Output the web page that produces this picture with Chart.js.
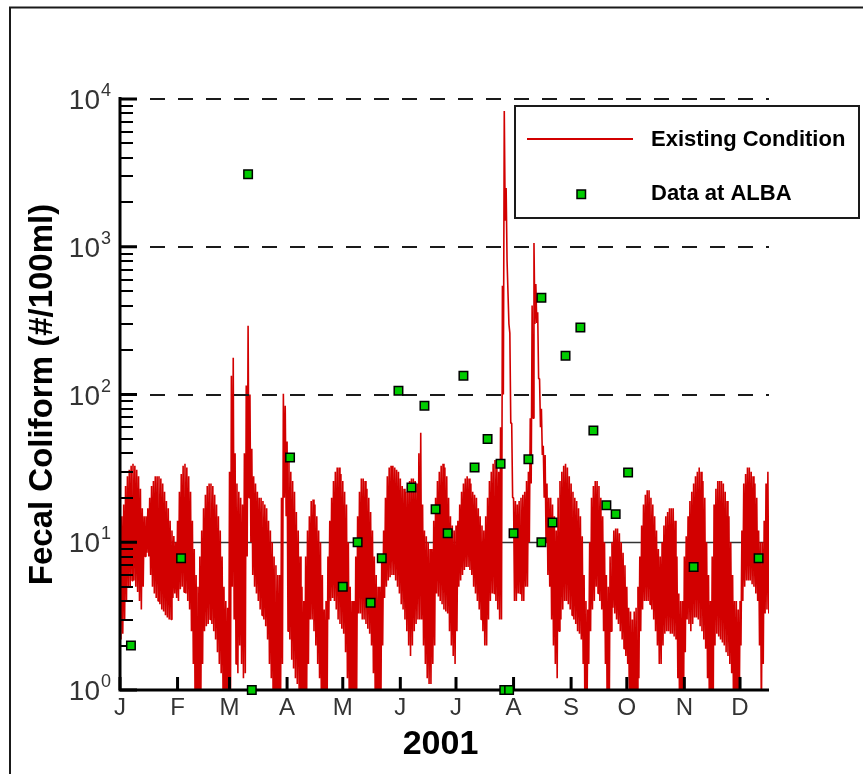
<!DOCTYPE html>
<html>
<head>
<meta charset="utf-8">
<title>Fecal Coliform at ALBA, 2001</title>
<script src="https://cdn.jsdelivr.net/npm/chart.js@4.4.1/dist/chart.umd.min.js"></script>
<style>
  html, body { margin: 0; padding: 0; background: #fff; }
  canvas { display: block; }
</style>
</head>
<body>
<canvas id="coliformChart" width="863" height="774"></canvas>
<script>
// Model output ("Existing Condition"): daily high and daily low, day 0 = Jan 1
const dailyHigh = [
  12, 15, 18, 24, 28, 31, 33, 34, 33, 31, 28, 23, 17, 15, 15, 17, 20, 24, 26, 28,
  28, 28, 27, 25, 22, 19, 17, 14, 12, 11, 10, 14, 22, 29, 33, 34, 32, 28, 22, 14,
  9, 6, 5, 8, 12, 17, 21, 24, 25, 25, 24, 21, 18, 15, 12, 8, 5, 4, 3.6, 30,
  134, 177, 40, 25, 22, 20, 18, 40, 115, 292, 100, 43, 28, 25, 22, 20, 20, 19, 18, 17,
  14, 12, 10, 8, 7, 6, 6, 20, 101, 84, 48, 38, 30, 26, 22, 16, 12, 8, 5, 4,
  8, 12, 15, 19, 19.5, 18, 15, 12, 10, 6, 3.5, 4, 8, 14, 20, 26, 30, 32, 32, 29,
  26, 22, 18, 10, 5, 4, 4, 8, 15, 22, 27, 27, 26, 23, 20, 16, 12, 8, 6, 5,
  5, 8, 12, 20, 28, 32, 33, 33, 32, 31, 30, 27, 24, 23, 22, 24, 26, 27, 27, 26,
  25, 40, 55, 18, 12, 11, 10, 9, 9, 14, 20, 26, 30, 33, 34, 32, 28, 20, 15, 13,
  12, 13, 14, 18, 22, 25, 27, 28, 27, 25, 22, 21, 20, 17, 15, 13, 12, 15, 20, 26,
  30, 34, 36, 34, 30, 60, 545, 8300, 2500, 800, 260, 64, 20, 19, 18, 19, 20, 21, 22, 26,
  30, 69, 400, 1060, 560, 360, 128, 80, 45, 39, 25, 20, 20, 18, 15, 12, 20, 26, 30, 33,
  34, 32, 28, 25, 22, 20, 19, 17, 15, 11, 6, 4, 3.5, 10, 20, 24, 26, 26, 24, 20,
  15, 10, 6, 5, 8, 10, 12, 12.4, 12.4, 11.5, 10, 8.5, 7, 5, 3.6, 3.4, 3, 3.4, 3.6, 5,
  8, 13, 18, 21, 22.5, 22.5, 20, 18, 15, 12, 9, 8, 10, 13, 15, 16, 17, 17, 17, 14,
  8, 4.5, 4, 4, 8, 11, 15, 19, 22, 25, 28, 30, 32, 30, 26, 20, 10, 6, 4, 8,
  18, 23, 26, 26, 26, 25, 22, 19, 15, 10, 6, 4, 4, 3.5, 4, 12, 25, 29, 32, 32,
  30, 28, 25, 20, 12, 10, 10, 14, 25, 30
];
const dailyLow = [
  2.2, 2.4, 3, 4, 5, 5, 5.5, 5.5, 5, 4.6, 4, 3.5, 5, 8, 8.5, 8, 6, 5, 4.5, 4.2,
  4, 3.8, 3.5, 3.4, 3.2, 3.1, 3, 3, 4.2, 4.5, 4.2, 4, 4.8, 5, 4.6, 4.5, 4, 3.5, 2.5, 1.5,
  0.6, 0.5, 0.5, 0.6, 1.5, 2.5, 2.7, 2.8, 3, 2.8, 2.5, 2.2, 1.8, 1.5, 1.3, 1, 0.7, 0.5, 0.6, 0.7,
  5, 3, 1.5, 1.3, 2, 1.5, 1.2, 1.3, 8, 20, 10, 6, 5, 4.5, 4, 3.5, 3.2, 3, 2.7, 2.2,
  1.5, 1.2, 0.8, 0.5, 0.5, 0.6, 0.8, 1.5, 20, 15, 2.5, 2.2, 1.6, 1.4, 1.2, 1.1, 1, 0.6, 0.5, 0.5,
  0.7, 1.5, 3, 3, 2.5, 2, 1.5, 1.2, 0.7, 0.5, 0.6, 0.5, 3, 4, 4.2, 4, 3.5, 3, 2.8, 2.6,
  2.4, 1.8, 1.2, 0.8, 0.5, 0.5, 0.5, 1, 3.3, 3.3, 3, 3, 2.8, 2.6, 2.4, 2, 1.3, 0.8, 0.5, 0.5,
  0.6, 2, 4.2, 5, 5.5, 5.8, 6, 6, 5.5, 5, 4.5, 3.8, 3.5, 3, 2.5, 2, 1.7, 2, 2.5, 2.8,
  3, 3, 3, 2, 1.5, 1.2, 1.1, 1.1, 1.5, 2, 4.5, 4.3, 4, 3.8, 3.5, 3.4, 3.3, 2.5, 2, 1.7,
  1.5, 2.5, 5, 5.5, 6, 6.5, 6.8, 6.8, 6.5, 6, 5, 4.5, 4, 3.5, 3, 2.5, 2, 2, 3, 4,
  4.5, 4.5, 4, 3.5, 3, 3, 100, 1500, 800, 300, 64, 20, 4, 4, 4.5, 4.5, 4, 4, 5, 5,
  10, 25, 69, 300, 305, 128, 60, 39, 20, 10, 6, 5, 3, 2, 1.5, 1.2, 2.5, 3, 3.5, 4,
  4, 3.8, 3.5, 3.2, 3, 2.8, 2.5, 2.4, 2.2, 1.5, 0.5, 0.5, 1.5, 2.5, 3.5, 4, 5, 4.5, 4, 3.5,
  2.5, 1.5, 0.5, 0.5, 2.5, 3.6, 3.3, 3, 2.8, 2.5, 2.2, 1.9, 1.7, 1.5, 0.5, 0.4, 0.4, 0.4, 0.5, 1.2,
  2.5, 3.5, 4, 4, 4, 3.8, 3.5, 3, 2.5, 2, 1.5, 1.5, 2, 2.4, 2.5, 2.5, 2.4, 2.4, 2.3, 2.2,
  1.2, 0.5, 0.5, 0.5, 1.8, 3, 2.8, 2.5, 2.8, 3.1, 3.1, 3, 2.7, 2.5, 2.2, 1.9, 1.2, 0.7, 0.5, 0.5,
  2, 2.4, 2.3, 2.2, 2.1, 2, 1.8, 1.7, 1.5, 1.3, 0.7, 0.5, 0.5, 0.5, 2, 4, 5, 5.5, 5.5, 5.5,
  5.2, 5, 4.5, 4, 2, 0.6, 1.5, 3.3, 3.5, 3.3
];

// Samples at ALBA (day of year, #/100ml)
const albaDays = [5.9, 32.9, 69, 71, 91.6, 120, 128, 135, 141, 150, 157, 164, 170, 176.5,
  185, 191, 198, 205, 207, 209.6, 212, 220, 227, 227, 233, 240, 248, 255, 262, 267,
  273.7, 309, 344];
const albaValues = [2, 7.8, 3100, 1, 37.5, 5, 10, 3.9, 7.8, 106, 23.5, 84, 16.7, 11.5,
  134, 32, 50, 34, 1, 1, 11.5, 36.4, 10, 452, 13.6, 183, 284, 57, 17.8, 15.5,
  29.7, 6.8, 7.8];

const monthStarts = [0, 31, 59, 90, 120, 151, 181, 212, 243, 273, 304, 334];
const monthLabels = ["J", "F", "M", "A", "M", "J", "J", "A", "S", "O", "N", "D"];
const decadeExponents = [0, 1, 2, 3, 4];
const xMaxDay = 349.6;

const RED = "#d20000";
const GREEN = "#00cc00";
const INK = "#1a1a1a";
const FONT = "'Liberation Sans', Arial, Helvetica, sans-serif";

/* =========================
   DECORATION PLUGIN
========================= */

const coliformDecor = {
  id: "coliformDecor",

  beforeDraw(chart) {
    const ctx = chart.ctx;
    ctx.save();
    ctx.fillStyle = "#fff";
    ctx.fillRect(0, 0, chart.width, chart.height);
    // outer frame (left and top edges only show)
    ctx.strokeStyle = INK;
    ctx.lineWidth = 2;
    ctx.beginPath();
    ctx.moveTo(10, chart.height);
    ctx.lineTo(10, 7.5);
    ctx.lineTo(chart.width, 7.5);
    ctx.stroke();
    ctx.restore();
  },

  beforeDatasetsDraw(chart) {
    // solid line at 10^1 sits under the model line
    const { ctx, chartArea, scales } = chart;
    const y = Math.round(scales.y.getPixelForValue(10)) + 0.5;
    ctx.save();
    ctx.strokeStyle = "#333";
    ctx.lineWidth = 1.5;
    ctx.beginPath();
    ctx.moveTo(chartArea.left + 16, y);
    ctx.lineTo(chartArea.right, y);
    ctx.stroke();
    ctx.restore();
  },

  afterDatasetDraw(chart, args) {
    if (args.index !== 0) return;
    const { ctx, chartArea, scales } = chart;
    const xs = scales.x;
    const ys = scales.y;
    ctx.save();

    // dashed decade lines
    ctx.strokeStyle = INK;
    ctx.lineWidth = 2;
    ctx.setLineDash([15, 13]);
    [100, 1000, 10000].forEach((v) => {
      const y = Math.round(ys.getPixelForValue(v));
      ctx.beginPath();
      ctx.moveTo(chartArea.left + 30, y);
      ctx.lineTo(chartArea.right, y);
      ctx.stroke();
    });
    ctx.setLineDash([]);

    // axis lines
    ctx.strokeStyle = "#000";
    ctx.lineWidth = 3;
    ctx.beginPath();
    ctx.moveTo(chartArea.left, chartArea.top - 2);
    ctx.lineTo(chartArea.left, chartArea.bottom);
    ctx.lineTo(chartArea.right, chartArea.bottom);
    ctx.stroke();

    // y ticks, major and minor, pointing inward
    decadeExponents.forEach((k) => {
      const y = ys.getPixelForValue(Math.pow(10, k));
      ctx.lineWidth = 3;
      ctx.beginPath();
      ctx.moveTo(chartArea.left, y);
      ctx.lineTo(chartArea.left + 17, y);
      ctx.stroke();
      if (k < 4) {
        ctx.lineWidth = 2;
        for (let m = 2; m <= 9; m++) {
          const ym = Math.round(ys.getPixelForValue(m * Math.pow(10, k)));
          ctx.beginPath();
          ctx.moveTo(chartArea.left, ym);
          ctx.lineTo(chartArea.left + 13, ym);
          ctx.stroke();
        }
      }
      // label 10^k
      ctx.fillStyle = "#333";
      ctx.font = "28px " + FONT;
      ctx.textAlign = "right";
      ctx.textBaseline = "alphabetic";
      ctx.fillText("10", chartArea.left - 20, y + 10);
      ctx.font = "18px " + FONT;
      ctx.textAlign = "left";
      ctx.fillText(String(k), chartArea.left - 19, y - 3);
    });

    // month ticks and labels
    ctx.lineWidth = 3;
    ctx.fillStyle = "#333";
    ctx.font = "24px " + FONT;
    ctx.textAlign = "center";
    monthStarts.forEach((d, i) => {
      const x = xs.getPixelForValue(d);
      ctx.beginPath();
      ctx.moveTo(x, chartArea.bottom);
      ctx.lineTo(x, chartArea.bottom - 13);
      ctx.stroke();
      ctx.fillText(monthLabels[i], x, chartArea.bottom + 25);
    });

    // axis titles
    ctx.fillStyle = "#000";
    ctx.font = "bold 34px " + FONT;
    ctx.fillText("2001", (chartArea.left + chartArea.right) / 2 - 4, 754);

    ctx.translate(52, (chartArea.top + chartArea.bottom) / 2);
    ctx.rotate(-Math.PI / 2);
    ctx.font = "bold 33px " + FONT;
    ctx.fillText("Fecal Coliform (#/100ml)", 0, 0);
    ctx.restore();
  },

  afterDraw(chart) {
    const ctx = chart.ctx;
    ctx.save();
    ctx.fillStyle = "#fff";
    ctx.fillRect(515, 106, 344, 112);
    ctx.strokeStyle = INK;
    ctx.lineWidth = 2;
    ctx.strokeRect(515, 106, 344, 112);

    ctx.strokeStyle = RED;
    ctx.lineWidth = 2;
    ctx.beginPath();
    ctx.moveTo(527, 139);
    ctx.lineTo(633, 139);
    ctx.stroke();

    ctx.fillStyle = GREEN;
    ctx.fillRect(577, 190, 8.5, 8.5);
    ctx.strokeStyle = "#000";
    ctx.lineWidth = 1.5;
    ctx.strokeRect(577, 190, 8.5, 8.5);

    ctx.fillStyle = "#000";
    ctx.font = "bold 22px " + FONT;
    ctx.textAlign = "left";
    ctx.textBaseline = "alphabetic";
    ctx.fillText("Existing Condition", 651, 146);
    ctx.fillText("Data at ALBA", 651, 200);
    ctx.restore();
  },
};

/* =========================
   CHART
========================= */

// each day: high at the start of the day, low at mid-day
const modelPoints = [];
dailyHigh.forEach((h, d) => {
  modelPoints.push({ x: d, y: h });
  modelPoints.push({ x: d + 0.5, y: dailyLow[d] });
});
const albaPoints = albaDays.map((d, i) => ({ x: d, y: albaValues[i] }));

new Chart(document.getElementById("coliformChart").getContext("2d"), {
  type: "scatter",
  data: {
    datasets: [
      {
        label: "Existing Condition",
        data: modelPoints,
        showLine: true,
        borderColor: RED,
        backgroundColor: RED,
        borderWidth: 1.6,
        borderJoinStyle: "bevel",
        pointRadius: 0,
        tension: 0,
        order: 2,
        clip: 0,
      },
      {
        label: "Data at ALBA",
        data: albaPoints,
        showLine: false,
        pointStyle: "rect",
        pointRadius: 6,
        backgroundColor: GREEN,
        borderColor: "#000",
        borderWidth: 1.5,
        order: 1,
        clip: false,
      },
    ],
  },
  options: {
    responsive: false,
    animation: false,
    events: [],
    layout: { padding: { left: 0, top: 99, right: 94, bottom: 0 } },
    plugins: {
      legend: { display: false },
      tooltip: { enabled: false },
    },
    scales: {
      x: {
        type: "linear",
        min: 0,
        max: xMaxDay,
        ticks: { display: false },
        grid: { display: false },
        border: { display: false },
        afterFit: (s) => { s.height = 84; },
      },
      y: {
        type: "logarithmic",
        min: 1,
        max: 10000,
        ticks: { display: false },
        grid: { display: false },
        border: { display: false },
        afterFit: (s) => { s.width = 120; },
      },
    },
  },
  plugins: [coliformDecor],
});
</script>
</body>
</html>
